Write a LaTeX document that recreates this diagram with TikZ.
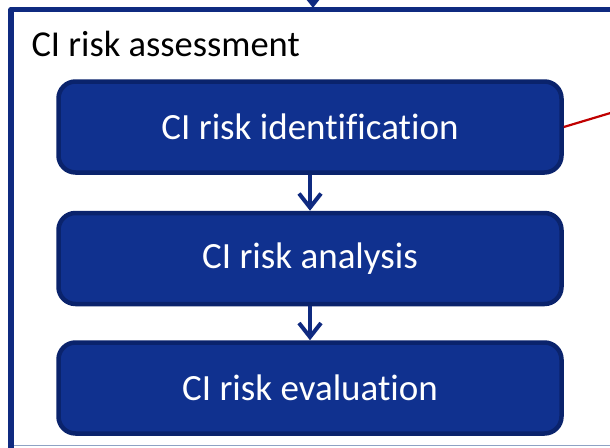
\documentclass[tikz,border=0pt]{standalone}
\usepackage{fontspec}
\setmainfont{Carlito}[Ligatures={NoCommon,NoRare,NoContextual}]
\usetikzlibrary{arrows.meta}
\definecolor{boxfill}{HTML}{10318F}
\definecolor{boxedge}{HTML}{0A236C}
\definecolor{framec}{HTML}{0F2A80}
\definecolor{redline}{HTML}{C00000}
\definecolor{bottomc}{HTML}{8FA2C4}
\begin{document}
\begin{tikzpicture}[x=1pt,y=-1pt,
  stepbox/.style={draw=boxedge, fill=boxfill, line width=4.5pt, rounded corners=17pt,
    minimum width=503pt, minimum height=91pt, text=white, font=\fontsize{37}{40}\selectfont,
    inner sep=0pt},
  flow/.style={draw=framec, line width=4pt, -{Straight Barb[length=14pt,width=22pt,line width=4pt]}},
  framestyle/.style={draw=framec, line width=5.5pt, line join=round}]
\clip (0,0) rectangle (610,447);
\useasboundingbox (0,0) rectangle (610,447);
\fill[white] (0,0) rectangle (610,447);
% outer frame
\draw[framestyle] (11,460) -- (11,9.5) -- (630,9.5);
\draw[bottomc, line width=1.5pt] (14,445.5) -- (620,445.5);
\node[anchor=base west, font=\fontsize{36.5}{40}\selectfont] (title) at (28,56) {CI risk assessment};
% top incoming arrow
\coordinate (topin) at (313,-40);
\coordinate (topend) at (313,8);
\draw[draw=framec, line width=4pt, -{Triangle[length=10pt,width=15pt]}] (topin) -- (topend);
% boxes
\node[stepbox] (b1) at (310,127) {CI risk identification};
\node[stepbox] (b2) at (310,258.5) {CI risk analysis};
\node[stepbox] (b3) at (310,388) {CI risk evaluation};
\draw[flow] (b1) -- (b2);
\draw[flow] (b2) -- (b3);
% red connector leaving to the right
\draw[redline, line width=2.2pt] (b1.east) -- ++(60,-18) coordinate (redend);
\end{tikzpicture}
\end{document}
